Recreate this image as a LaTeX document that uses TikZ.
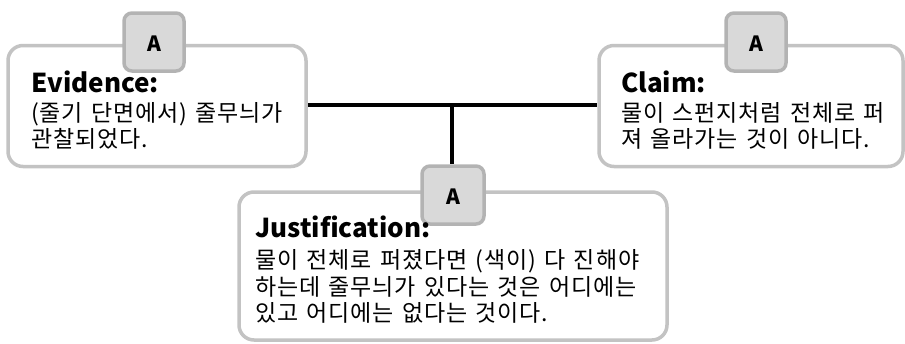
\documentclass[tikz,border=0pt]{standalone}
\usepackage{fontspec}
\setmainfont{Noto Sans CJK KR}
\newfontfamily\bodyfont[LetterSpace=4,WordSpace=1.35]{Noto Sans CJK KR}
\definecolor{boxborder}{HTML}{C3C3C3}
\definecolor{tagfill}{HTML}{D9D9D9}
\definecolor{tagborder}{HTML}{B3B3B3}
\begin{document}
\begin{tikzpicture}[x=1pt,y=-1pt,
  card/.style={draw=boxborder,line width=3.5pt,fill=white,rounded corners=15pt,inner sep=0pt},
  tag/.style={draw=tagborder,line width=3.5pt,fill=tagfill,rounded corners=8pt,inner sep=0pt,font=\fontsize{21}{21}\selectfont\bfseries},
  ttl/.style={anchor=base west,inner sep=0pt,font=\fontsize{26}{26}\selectfont\bfseries},
  txt/.style={anchor=base west,inner sep=0pt,font=\bodyfont\fontsize{23}{23}\selectfont},
  link/.style={line width=4pt,black}]
\useasboundingbox (0,0) rectangle (905,343);
% boxes
\node[card,minimum width=298pt,minimum height=121pt] (ev) at (157,106) {};
\node[card,minimum width=304pt,minimum height=121pt] (cl) at (751,106) {};
\node[card,minimum width=428pt,minimum height=148pt] (ju) at (453,266) {};
% connectors
\coordinate (j) at (452,105);
\draw[link] (ev.east |- j) -- (cl.west |- j);
% tags
\node[tag,minimum width=60pt,minimum height=58pt] (tev) at (154,42) {};
\node[tag,minimum width=60pt,minimum height=58pt] (tcl) at (756,42) {};
\node[tag,minimum width=62pt,minimum height=58pt] (tju) at (453,195) {};
\draw[link] (j) -- (tju.north -| j);
\node[tag,draw=none,fill=none,anchor=base] at (154,51) {A};
\node[tag,draw=none,fill=none,anchor=base] at (756,51) {A};
\node[tag,draw=none,fill=none,anchor=base] at (453,204) {A};
% texts
\node[ttl] (evt) at (31,92) {Evidence:};
\node[txt] (ev1) at (31,121) {(줄기 단면에서) 줄무늬가};
\node[txt] (ev2) at (31,147) {관찰되었다.};
\node[ttl] (clt) at (621,92) {Claim:};
\node[txt] (cl1) at (621,121) {물이 스펀지처럼 전체로 퍼};
\node[txt] (cl2) at (621,147) {져 올라가는 것이 아니다.};
\node[ttl] (jut) at (255,237) {Justification:};
\node[txt] (ju1) at (255,268) {물이 전체로 퍼졌다면 (색이) 다 진해야};
\node[txt] (ju2) at (255,295) {하는데 줄무늬가 있다는 것은 어디에는};
\node[txt] (ju3) at (255,321) {있고 어디에는 없다는 것이다.};
\end{tikzpicture}
\end{document}
